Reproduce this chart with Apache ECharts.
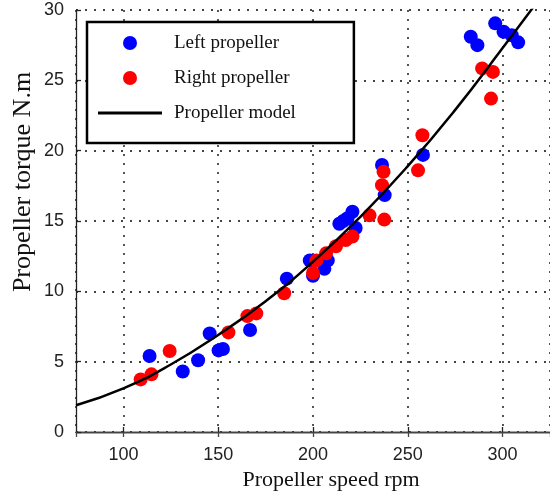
<!DOCTYPE html>
<html>
<head>
<meta charset="utf-8">
<script src="https://cdn.jsdelivr.net/npm/echarts@6/dist/echarts.min.js"></script>
<style>
  html, body { margin: 0; padding: 0; background: #fff; }
  #chart { width: 550px; height: 494px; }
</style>
</head>
<body>
<div id="chart"></div>
<script>
// Measured torque against propeller speed, [rpm, N.m]
const leftPropeller = [
  [113.8, 5.4], [131.3, 4.3], [139.4, 5.1], [145.5, 7.0], [150.2, 5.8],
  [152.5, 5.9], [166.8, 7.25], [186.2, 10.9], [198.3, 12.2], [200.0, 11.1],
  [206.0, 11.6], [207.8, 12.2], [213.9, 14.8], [216.0, 15.0], [218.2, 15.2],
  [220.8, 15.66], [222.5, 14.5], [236.4, 18.98], [237.8, 16.84], [258.0, 19.7],
  [283.2, 28.1], [286.7, 27.5], [296.1, 29.05], [300.5, 28.45], [304.8, 28.2],
  [308.2, 27.7]
];
const rightPropeller = [
  [109.1, 3.74], [114.8, 4.1], [124.4, 5.76], [155.4, 7.08], [165.4, 8.24],
  [170.1, 8.43], [184.8, 9.86], [200.0, 11.3], [201.8, 12.2], [206.9, 12.7],
  [212.1, 13.2], [217.3, 13.65], [220.8, 13.9], [229.8, 15.4], [237.6, 15.1],
  [236.4, 17.55], [237.2, 18.5], [255.4, 18.6], [257.7, 21.1], [289.2, 25.85],
  [294.9, 25.6], [293.9, 23.7]
];
// Fitted propeller model curve
const modelSpeed = [75, 100, 125, 150, 175, 200, 225, 250, 275, 300, 325];
const modelTorque = [1.9, 3.1, 4.8, 6.9, 9.3, 12.1, 15.3, 18.9, 22.9, 27.3, 31.8];

const seriesNames = ['Left propeller', 'Right propeller', 'Propeller model'];
const xTitle = 'Propeller speed rpm';
const yTitle = 'Propeller torque N.m';

const chart = echarts.init(document.getElementById('chart'), null, { renderer: 'canvas' });

const tickFont = { fontFamily: 'Liberation Sans', fontSize: 18, color: '#222' };
const dotted = { color: '#444', width: 1.8, type: [2, 7] };

chart.setOption({
  backgroundColor: '#fff',
  animation: false,
  grid: { left: 76, top: 10, right: -7, bottom: 62, containLabel: false },
  xAxis: [{
    type: 'value', min: 75, max: 325, splitNumber: 5,
    axisLine: { show: true, onZero: false, lineStyle: { color: '#222', width: 1.3 } },
    axisTick: { show: true, inside: true, length: 5, lineStyle: { color: '#222', width: 1.3 } },
    axisLabel: Object.assign({ margin: 14, showMinLabel: false, showMaxLabel: false }, tickFont),
    splitLine: { show: true, lineStyle: dotted }
  }, {
    type: 'value', min: 75, max: 325, splitNumber: 5, position: 'top',
    axisLine: { show: true, lineStyle: { color: '#444', width: 1.3 } },
    axisTick: { show: true, inside: true, length: 5, lineStyle: { color: '#444', width: 1.3 } },
    axisLabel: { show: false },
    splitLine: { show: false }
  }],
  yAxis: {
    type: 'value', min: 0, max: 30, interval: 5,
    axisLine: { show: true, onZero: false, lineStyle: { color: '#222', width: 1.3 } },
    axisTick: { show: true, inside: true, length: 5, lineStyle: { color: '#222', width: 1.3 } },
    axisLabel: Object.assign({ margin: 12 }, tickFont),
    splitLine: { show: true, lineStyle: dotted }
  },
  legend: {
    orient: 'vertical',
    left: 87, top: 22,
    padding: [11, 58, 20, 11],
    itemWidth: 64, itemHeight: 14, itemGap: 15,
    backgroundColor: '#fff',
    borderColor: '#000', borderWidth: 2.5, borderRadius: 0,
    textStyle: { fontFamily: 'Liberation Serif', fontSize: 19, color: '#111', lineHeight: 20, padding: [0, 0, 0, 7] },
    data: [
      { name: seriesNames[0], icon: 'circle' },
      { name: seriesNames[1], icon: 'circle' },
      { name: seriesNames[2], icon: 'path://M0,0H64V3H0Z', itemStyle: { color: '#000' } }
    ],
    z: 10
  },
  series: [{
    name: seriesNames[0], type: 'scatter', data: leftPropeller,
    symbol: 'circle', symbolSize: 14,
    itemStyle: { color: '#0000ff', opacity: 1 }
  }, {
    name: seriesNames[1], type: 'scatter', data: rightPropeller,
    symbol: 'circle', symbolSize: 14,
    itemStyle: { color: '#ff0000', opacity: 1 }
  }, {
    name: seriesNames[2], type: 'line',
    data: modelSpeed.map((s, i) => [s, modelTorque[i]]),
    smooth: true, symbol: 'none', showSymbol: false, clip: true,
    lineStyle: { color: '#000', width: 2.5 },
    itemStyle: { color: '#000' },
    z: 5
  }],
  graphic: [{
    type: 'text', x: 331, y: 480,
    style: { text: xTitle, font: '22px "Liberation Serif"', fill: '#111', textAlign: 'center', textVerticalAlign: 'middle' }
  }, {
    type: 'text', x: 23, y: 182, rotation: Math.PI / 2,
    style: { text: yTitle, font: '26px "Liberation Serif"', fill: '#111', textAlign: 'center', textVerticalAlign: 'middle' }
  }]
});
</script>
</body>
</html>
